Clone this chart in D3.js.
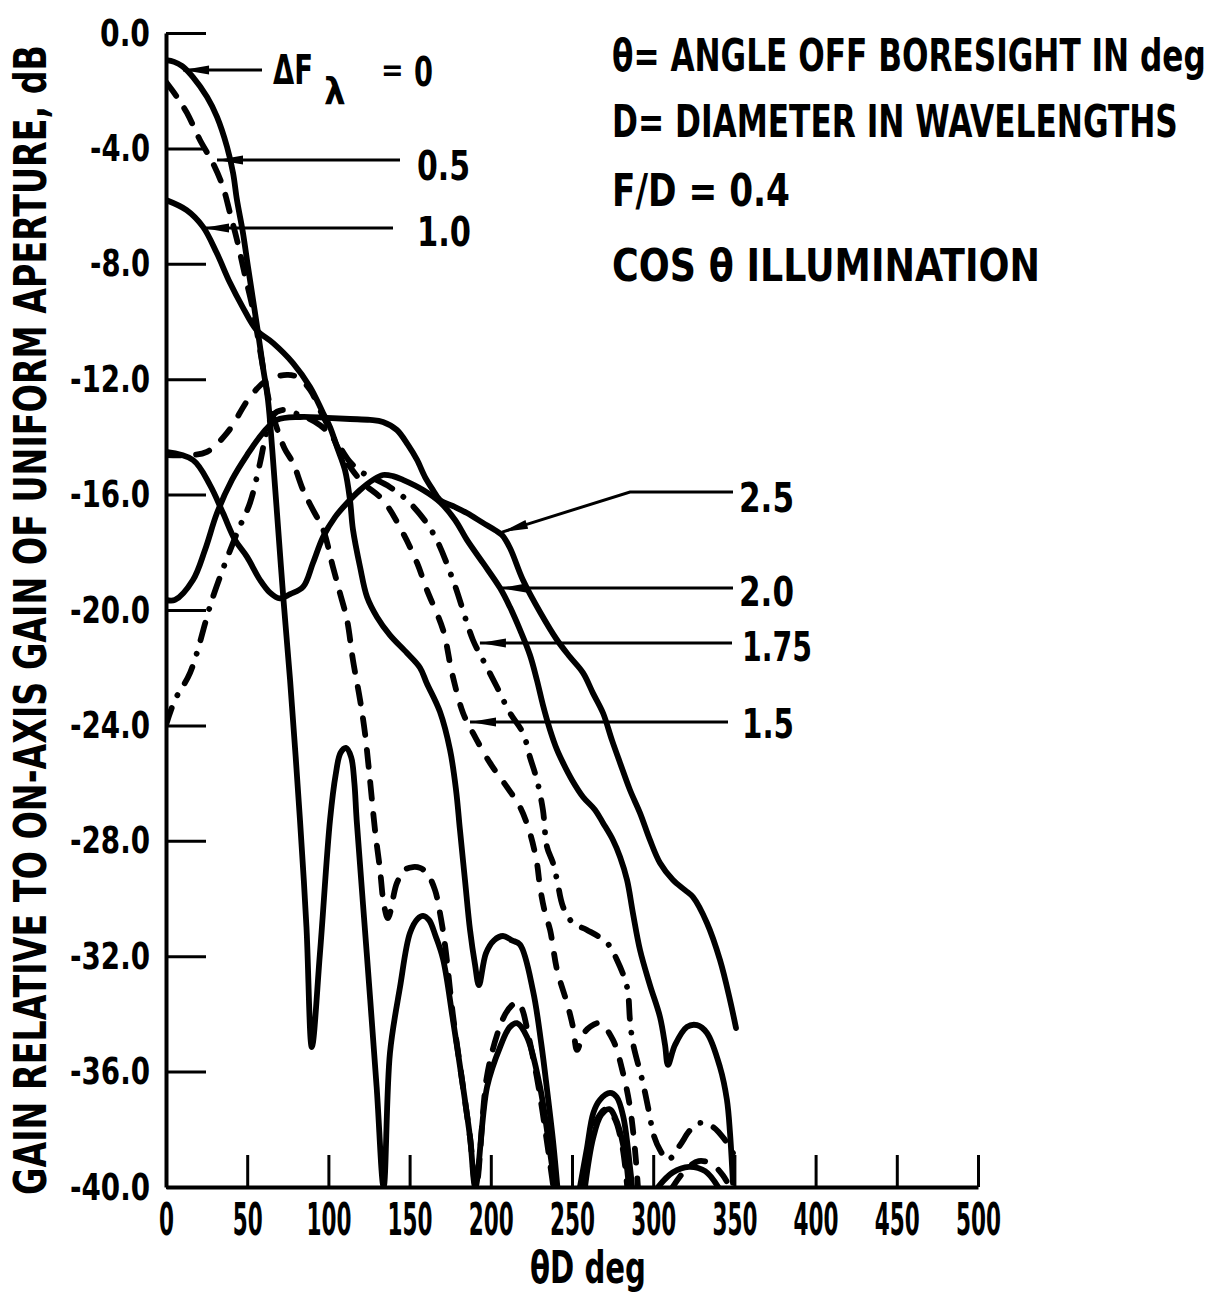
<!DOCTYPE html>
<html>
<head>
<meta charset="utf-8">
<title>Gain vs defocus</title>
<script src="https://d3js.org/d3.v7.min.js"></script>
<style>
  body { margin: 0; background: #fff; }
  svg text { font-family: 'DejaVu Sans Condensed', 'DejaVu Sans', sans-serif; font-stretch: condensed; font-weight: bold; fill: #000; }
</style>
</head>
<body>
<div id="chart"></div>
<script>
// theta*D (deg) vs gain (dB); null = curve leaves the plot at -40 dB
const dF0 = [[0,-0.94],[5,-1.0],[10,-1.15],[16.6,-1.53],[25.3,-2.22],[31.4,-2.91],[37.6,-3.95],[41.3,-4.85],[43.7,-5.79],[47.4,-6.93],[50.5,-8.11],[53.6,-9.25],[56.7,-10.4],[59.7,-11.58],[62.8,-12.72],[65.5,-14.5],[68.3,-16.6],[72.2,-19.55],[76.4,-22.43],[82.5,-27.28],[86.5,-31.0],[89.8,-35.15],[94.8,-31.9],[101,-27.28],[104.5,-25.7],[107.5,-24.95],[110.8,-24.78],[114,-25.1],[116,-26.0],[117.4,-27.28],[123.6,-31.89],[129.7,-36.53],[134,-40],[137.9,-35.36],[144.1,-33.07],[150.2,-31.2],[155,-30.7],[158.3,-30.6],[162,-30.75],[166,-31.3],[170.6,-32.1],[176.7,-34.21],[182.9,-36.53],[187.2,-38.27],[190.5,-40],[197.7,-36.53],[205.7,-35.15],[211.8,-34.45],[216.1,-34.32],[222.3,-34.8],[230.3,-36.53],[236.5,-38.8],[239.5,-40],null,[254.9,-40],[259,-38.72],[263.1,-37.44],[267.2,-36.98],[273.4,-36.74],[277.5,-36.88],[281.6,-37.57],[285.7,-39.31],[287,-40],null,[303,-40],[312,-39.5],[322,-39.3],[332,-39.45],[340,-40]];
const dF05 = [[0,-1.7],[6.8,-2.22],[12.9,-2.77],[20.9,-3.71],[28.9,-4.51],[35.1,-5.34],[39.4,-6.24],[43.7,-7.17],[48.6,-8.39],[53.6,-9.6],[57.9,-10.99],[61,-12.0],[64,-12.9],[68.3,-13.7],[73,-14.4],[78.2,-14.9],[84.4,-15.84],[90.5,-16.53],[96.7,-17.2],[102.8,-18.51],[107.1,-19.41],[111.5,-20.35],[115.1,-21.73],[119.5,-23.12],[122.5,-24.26],[125.6,-25.89],[128.7,-27.63],[131.8,-29.01],[134.2,-30.22],[136.7,-30.68],[142.2,-29.46],[147.2,-29.0],[152.1,-28.91],[156.4,-28.94],[160.7,-29.12],[165.6,-29.7],[168.7,-30.5],[171.8,-31.61],[176.7,-34.04],[182.9,-36.53],[187.2,-38.27],[190.9,-40],[197.5,-36.2],[204,-34.7],[209,-34.0],[213,-33.7],[216,-33.6],[219,-33.8],[223,-34.7],[229,-36.4],[235,-38.6],[238.5,-40],null,[257,-40],[261,-38.6],[266,-37.6],[271,-37.3],[276,-37.6],[281,-38.6],[284,-40]];
const dF10 = [[0,-5.79],[12.7,-6.14],[22.8,-6.72],[31.2,-7.62],[39.4,-8.66],[47.2,-9.5],[55.8,-10.3],[66,-10.75],[78.2,-11.44],[88.7,-12.27],[96.7,-13.17],[101,-13.66],[105.3,-14.35],[110.2,-15.15],[113.3,-16.19],[115.1,-17.2],[119.5,-18.51],[123.8,-19.55],[129.9,-20.24],[137.9,-20.87],[148.4,-21.49],[156.4,-22.0],[160.5,-22.53],[168.7,-23.53],[174.9,-24.85],[178.6,-26.24],[181,-27.62],[184.1,-29.36],[187.2,-31.09],[190.3,-32.3],[192.7,-33.0],[197,-31.9],[202,-31.45],[207.5,-31.3],[213,-31.45],[218,-31.6],[226,-33.2],[231,-35.0],[235,-36.8],[238.5,-38.5],[241,-40],null,[258,-40],[263,-38.3],[268,-37.5],[273,-37.3],[278,-37.8],[283,-39],[285,-40]];
const dF15 = [[0,-14.63],[14.8,-14.63],[25.2,-14.52],[37.6,-13.86],[51.7,-12.62],[62.2,-12.03],[74.5,-11.85],[80.7,-11.92],[88.7,-12.37],[94.8,-13.07],[101,-13.76],[107.1,-14.52],[113.3,-15.04],[121.3,-15.6],[133.6,-16.19],[145.9,-17.33],[154.6,-18.37],[160.7,-19.31],[170.6,-20.69],[176.1,-22.18],[182.9,-23.57],[189,-24.26],[199.5,-25.3],[210,-26.14],[218,-26.83],[224.1,-27.73],[228.4,-28.77],[230.3,-29.6],[233.4,-30.5],[236.5,-31.09],[240.8,-32.48],[246.9,-33.62],[250.6,-34.45],[253.1,-35.25],[257,-34.7],[261.1,-34.45],[267.2,-34.32],[275.2,-34.9],[281.4,-36.05],[285.7,-37.23],[288.8,-38.72],[290.6,-40],null,[312,-40],[320,-39.4],[328,-39.1],[336,-39.2],[343,-39.6],[347,-40]];
const dF175 = [[0,-23.99],[5.5,-23.12],[14.8,-22.18],[28.9,-19.55],[43.7,-17.33],[51.7,-16.29],[57.9,-14.9],[62.2,-13.76],[65.9,-13.24],[71.4,-13.07],[82.5,-13.24],[94.8,-13.59],[104.1,-14.11],[113.3,-14.87],[121.3,-15.25],[137.9,-15.74],[150.2,-16.29],[164.4,-17.33],[176.7,-18.96],[189,-21.04],[195.2,-21.73],[203.8,-22.67],[211.8,-23.57],[219.8,-24.26],[224.1,-25.1],[228.4,-25.89],[232.1,-26.93],[234.6,-28.21],[238.3,-28.77],[240.8,-29.36],[244.5,-30.29],[250.6,-30.85],[259.2,-31.09],[271.6,-31.54],[277.7,-32.13],[283.9,-33.07],[285.7,-34.21],[287.5,-35.01],[293.7,-36.4],[298,-37.57],[299.9,-38.13],[304.2,-38.72],[309.1,-39.06],[316.5,-38.55],[322.7,-38.03],[328.8,-37.78],[336.8,-37.92],[344.2,-38.37],[349.1,-38.82]];
const dF20 = [[0,-14.52],[16.6,-14.8],[27.1,-15.67],[35.1,-16.64],[42.5,-17.57],[49.9,-18.16],[57.9,-18.96],[64,-19.4],[70,-19.6],[76.4,-19.45],[84.4,-19.2],[90.5,-18.37],[96.7,-17.47],[104.1,-16.78],[111.5,-16.29],[119.5,-15.84],[127.5,-15.49],[133.6,-15.32],[139.8,-15.36],[145.9,-15.49],[158.3,-15.84],[168.7,-16.26],[178,-16.88],[185.3,-17.57],[195.2,-18.37],[205.7,-19.24],[211.8,-19.9],[218,-20.69],[224.1,-21.56],[228.4,-22.43],[232.1,-23.29],[236.5,-24.16],[240.8,-24.85],[244.5,-25.3],[250,-25.89],[256.8,-26.48],[264.2,-26.93],[269.1,-27.38],[275.2,-27.97],[279.6,-28.56],[283.9,-29.36],[287.5,-30.5],[291.9,-31.79],[298,-33.0],[304.2,-34.11],[307.3,-35.08],[309.1,-35.77],[313.4,-35.08],[320.8,-34.45],[327,-34.39],[333.1,-34.66],[341.1,-35.84],[345.4,-36.98],[347.3,-38.13],[349.1,-39.86]];
const dF25 = [[0,-19.65],[5.5,-19.65],[16.6,-18.96],[24,-17.92],[31.4,-16.64],[40.6,-15.49],[49.9,-14.63],[59.7,-13.86],[68.3,-13.41],[82.5,-13.31],[99.1,-13.34],[113.3,-13.38],[125.6,-13.41],[133.6,-13.48],[142.2,-13.76],[149,-14.28],[154.6,-14.8],[159.5,-15.39],[164.4,-15.84],[168.7,-16.19],[178,-16.43],[185.3,-16.64],[195.2,-16.98],[202.6,-17.23],[206.9,-17.4],[211.8,-17.85],[219.8,-18.96],[230.3,-20.07],[240.8,-21.04],[248.8,-21.63],[256.8,-22.18],[262.9,-22.88],[269.1,-23.57],[274.6,-24.51],[279.6,-25.3],[285.7,-26.24],[291.9,-27.04],[298,-27.97],[304.2,-28.77],[312.2,-29.36],[319.6,-29.71],[324.5,-29.95],[333.1,-30.85],[341.1,-32.13],[347.3,-33.52],[351,-34.49]];

const xTicks = [0, 50, 100, 150, 200, 250, 300, 350, 400, 450, 500];
const yTicks = [0, -4, -8, -12, -16, -20, -24, -28, -32, -36, -40];
const notes = ["\u03B8= ANGLE OFF BORESIGHT IN deg", "D= DIAMETER IN WAVELENGTHS", "F/D = 0.4", "COS  \u03B8   ILLUMINATION"];

const width = 1218, height = 1293;
const svg = d3.select("#chart").append("svg")
  .attr("width", width).attr("height", height);

const x = d3.scaleLinear().domain([0, 500]).range([166, 978]);
const y = d3.scaleLinear().domain([-40, 0]).range([1187, 33]);

// squeeze a text horizontally to a given width (the lettering is narrow)
function fit(sel, w, pre) {
  const n = sel.node().getComputedTextLength();
  sel.attr("transform", (pre || "") + ` scale(${w / n},1)`);
  return sel;
}

svg.append("clipPath").attr("id", "plot")
  .append("rect").attr("x", 166).attr("y", 20).attr("width", 820).attr("height", 1167);

const line = d3.line()
  .defined(d => d !== null)
  .x(d => x(d[0])).y(d => y(d[1]))
  .curve(d3.curveCatmullRom.alpha(0.5));

const series = [
  { data: dF0, dash: null },
  { data: dF05, dash: "17,15" },
  { data: dF10, dash: null },
  { data: dF15, dash: "14,16" },
  { data: dF175, dash: "18,14,0.1,14" },
  { data: dF20, dash: null },
  { data: dF25, dash: null }
];

svg.append("g").attr("clip-path", "url(#plot)")
  .selectAll("path").data(series).join("path")
  .attr("d", d => line(d.data))
  .attr("fill", "none").attr("stroke", "#000")
  .attr("stroke-width", 5.8)
  .attr("stroke-linecap", "round").attr("stroke-linejoin", "round")
  .attr("stroke-dasharray", d => d.dash);

// axes, ticks point inward
const yAxis = svg.append("g").attr("transform", "translate(166,0)")
  .call(d3.axisLeft(y).tickValues(yTicks).tickSizeInner(-40).tickSizeOuter(0).tickPadding(16)
    .tickFormat(d => d.toFixed(1)));
const xAxis = svg.append("g").attr("transform", "translate(0,1187)")
  .call(d3.axisBottom(x).tickValues(xTicks).tickSizeInner(-32).tickSizeOuter(0).tickPadding(17)
    .tickFormat(d3.format("d")));

[yAxis, xAxis].forEach(g => {
  g.select(".domain").attr("stroke", "#000").attr("stroke-width", 4);
  g.selectAll(".tick line").attr("stroke", "#000").attr("stroke-width", 3);
  g.selectAll(".tick text").attr("fill", "#000");
});
yAxis.selectAll(".tick text").style("font-size", "38px")
  .each(function (d) {
    const t = d3.select(this);
    fit(t, d === 0 ? 50 : (d > -10 ? 60 : 80), `translate(${t.attr("x")},0)`);
    t.attr("x", 0);
  });
xAxis.selectAll(".tick text").style("font-size", "44px")
  .each(function (d) {
    const t = d3.select(this);
    fit(t, String(d).length * 15, `translate(0,${t.attr("y")})`);
    t.attr("y", 0);
  });

fit(svg.append("text")
  .attr("text-anchor", "middle")
  .style("font-size", "44px")
  .text("GAIN RELATIVE TO ON-AXIS GAIN OF UNIFORM APERTURE, dB"),
  1150, "translate(46,620) rotate(-90)");

fit(svg.append("text")
  .attr("text-anchor", "middle")
  .style("font-size", "44px")
  .text("\u03B8D deg"), 116, "translate(588,1283)");

// notes, top right
const noteLayout = [[71, 594], [137, 566], [206, 178], [281, 428]];
svg.selectAll("text.note").data(notes).join("text").attr("class", "note")
  .style("font-size", "44px")
  .text(d => d)
  .each(function (d, i) {
    fit(d3.select(this), noteLayout[i][1], `translate(612,${noteLayout[i][0]})`);
  });

// leader lines with arrowheads; tips sit on the curves (data units)
const leaders = [
  { tip: [10.5, -1.28], pts: [[262, 70]] },
  { tip: [31.4, -4.4], pts: [[400, 160]] },
  { tip: [22.8, -6.76], pts: [[393, 228]] },
  { tip: [206.9, -17.3], pts: [[630, 492], [733, 492]] },
  { tip: [205.7, -19.24], pts: [[733, 588]] },
  { tip: [193.3, -21.14], pts: [[732, 643]] },
  { tip: [187.2, -23.88], pts: [[728, 722]] }
];
leaders.forEach(l => {
  const t = [x(l.tip[0]), y(l.tip[1])];
  const p = [t].concat(l.pts);
  svg.append("path").attr("d", d3.line()(p))
    .attr("fill", "none").attr("stroke", "#000").attr("stroke-width", 3);
  const dx = p[1][0] - t[0], dy = p[1][1] - t[1], len = Math.hypot(dx, dy);
  const ux = dx / len, uy = dy / len, L = 26, w = 4.5;
  const bx = t[0] + ux * L, by = t[1] + uy * L;
  svg.append("path")
    .attr("d", `M${t[0]},${t[1]}L${bx - uy * w},${by + ux * w}L${bx + uy * w},${by - ux * w}Z`)
    .attr("fill", "#000");
});

const labels = [
  { text: "0.5", x: 417, y: 180, w: 53 },
  { text: "1.0", x: 417, y: 246, w: 54 },
  { text: "2.5", x: 739, y: 512, w: 55 },
  { text: "2.0", x: 739, y: 606, w: 55 },
  { text: "1.75", x: 742, y: 661, w: 70 },
  { text: "1.5", x: 742, y: 738, w: 52 }
];
svg.selectAll("text.lbl").data(labels).join("text").attr("class", "lbl")
  .style("font-size", "41px")
  .text(d => d.text)
  .each(function (d) { fit(d3.select(this), d.w, `translate(${d.x},${d.y})`); });

// delta F sub lambda = 0
fit(svg.append("text").style("font-size", "41px").text("\u0394F"), 40, "translate(273,84)");
svg.append("text").attr("x", 324).attr("y", 104).style("font-size", "38px").text("\u03BB");
svg.append("text").attr("x", 381).attr("y", 80).style("font-size", "30px").text("=");
fit(svg.append("text").style("font-size", "41px").text("0"), 19, "translate(414,86)");
</script>
</body>
</html>
